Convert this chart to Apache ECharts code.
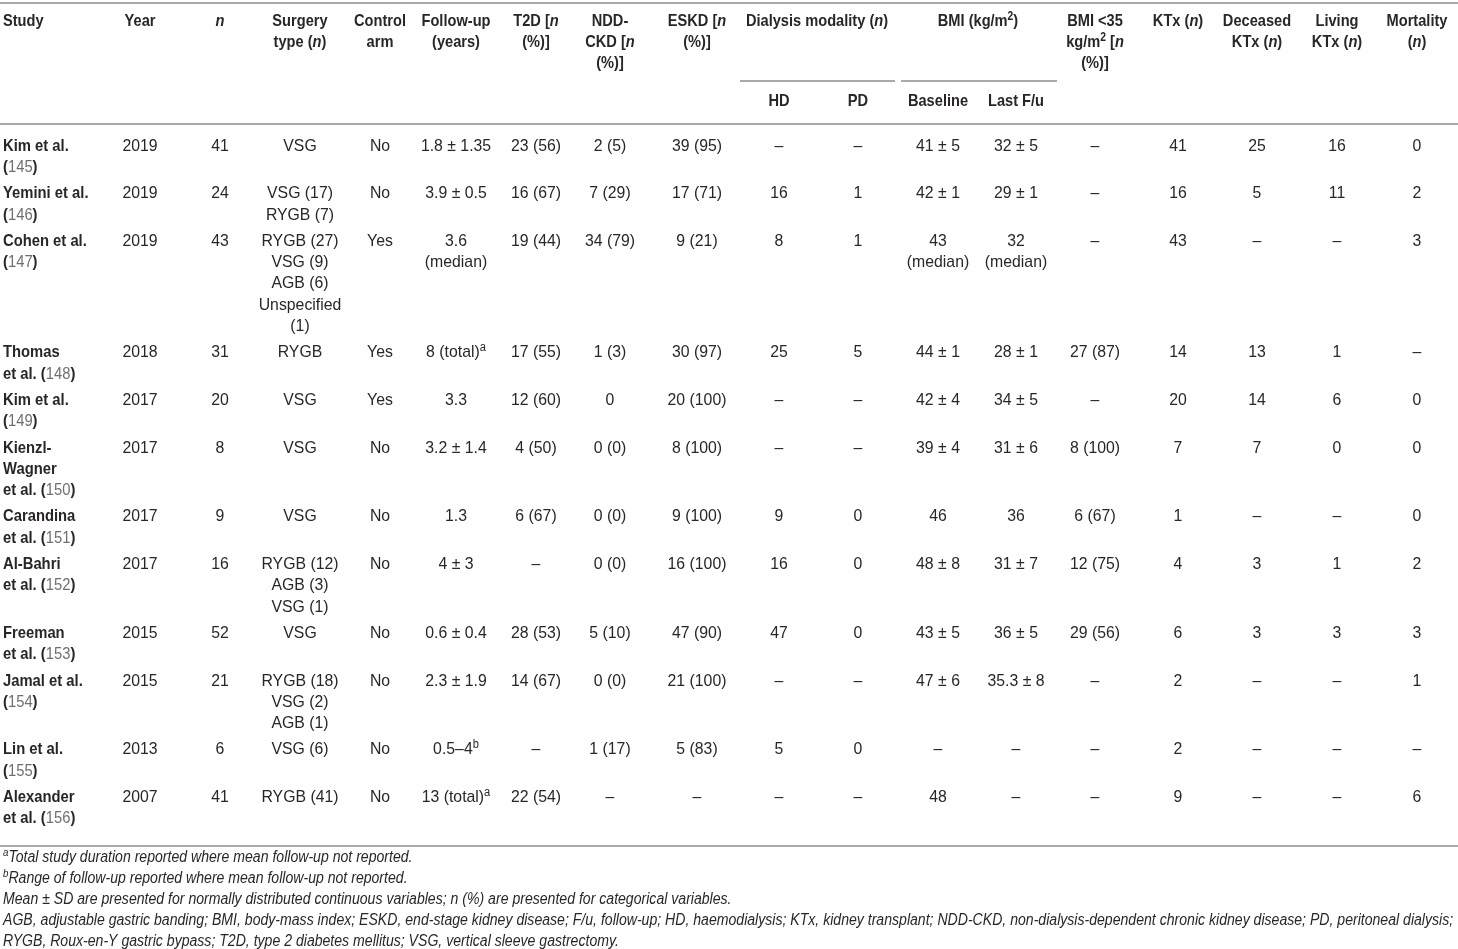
<!DOCTYPE html>
<html>
<head>
<meta charset="utf-8">
<title>Bariatric surgery in kidney disease - studies</title>
<script src="https://cdn.jsdelivr.net/npm/echarts@6/dist/echarts.min.js"></script>
<style>
  html, body { margin: 0; padding: 0; background: #fff; }
  #main { width: 1458px; height: 949px; }
</style>
</head>
<body>
<div id="main"></div>
<script type="text/javascript">
  // ---- table data ----
  var studies = ['Kim et al.\n', 'Yemini et al.\n', 'Cohen et al.\n', 'Thomas\net al. ', 'Kim et al.\n',
    'Kienzl-\nWagner\net al. ', 'Carandina\net al. ', 'Al-Bahri\net al. ', 'Freeman\net al. ',
    'Jamal et al.\n', 'Lin et al.\n', 'Alexander\net al. '];
  var refs = ['145', '146', '147', '148', '149', '150', '151', '152', '153', '154', '155', '156'];
  var years = ['2019', '2019', '2019', '2018', '2017', '2017', '2017', '2017', '2015', '2015', '2013', '2007'];
  var nPatients = ['41', '24', '43', '31', '20', '8', '9', '16', '52', '21', '6', '41'];
  var surgery = ['VSG', 'VSG (17)\nRYGB (7)', 'RYGB (27)\nVSG (9)\nAGB (6)\nUnspecified\n(1)', 'RYGB', 'VSG',
    'VSG', 'VSG', 'RYGB (12)\nAGB (3)\nVSG (1)', 'VSG', 'RYGB (18)\nVSG (2)\nAGB (1)', 'VSG (6)', 'RYGB (41)'];
  var controlArm = ['No', 'No', 'Yes', 'Yes', 'Yes', 'No', 'No', 'No', 'No', 'No', 'No', 'No'];
  var followUp = ['1.8 ± 1.35', '3.9 ± 0.5', '3.6\n(median)', '8 (total){sup|a}', '3.3', '3.2 ± 1.4', '1.3',
    '4 ± 3', '0.6 ± 0.4', '2.3 ± 1.9', '0.5–4{sup|b}', '13 (total){sup|a}'];
  var t2d = ['23 (56)', '16 (67)', '19 (44)', '17 (55)', '12 (60)', '4 (50)', '6 (67)', '–', '28 (53)', '14 (67)', '–', '22 (54)'];
  var nddCkd = ['2 (5)', '7 (29)', '34 (79)', '1 (3)', '0', '0 (0)', '0 (0)', '0 (0)', '5 (10)', '0 (0)', '1 (17)', '–'];
  var eskd = ['39 (95)', '17 (71)', '9 (21)', '30 (97)', '20 (100)', '8 (100)', '9 (100)', '16 (100)', '47 (90)', '21 (100)', '5 (83)', '–'];
  var hd = ['–', '16', '8', '25', '–', '–', '9', '16', '47', '–', '5', '–'];
  var pd = ['–', '1', '1', '5', '–', '–', '0', '0', '0', '–', '0', '–'];
  var bmiBaseline = ['41 ± 5', '42 ± 1', '43\n(median)', '44 ± 1', '42 ± 4', '39 ± 4', '46', '48 ± 8', '43 ± 5', '47 ± 6', '–', '48'];
  var bmiLast = ['32 ± 5', '29 ± 1', '32\n(median)', '28 ± 1', '34 ± 5', '31 ± 6', '36', '31 ± 7', '36 ± 5', '35.3 ± 8', '–', '–'];
  var bmiUnder35 = ['–', '–', '–', '27 (87)', '–', '8 (100)', '6 (67)', '12 (75)', '29 (56)', '–', '–', '–'];
  var ktx = ['41', '16', '43', '14', '20', '7', '1', '4', '6', '2', '2', '9'];
  var deceasedKtx = ['25', '5', '–', '13', '14', '7', '–', '3', '3', '–', '–', '–'];
  var livingKtx = ['16', '11', '–', '1', '6', '0', '–', '1', '3', '–', '–', '–'];
  var mortality = ['0', '2', '3', '–', '0', '0', '0', '2', '3', '1', '–', '6'];

  var headers = ['Study', 'Year', '{i|n}', 'Surgery\ntype ({i|n})', 'Control\narm', 'Follow-up\n(years)',
    'T2D [{i|n}\n(%)]', 'NDD-\nCKD [{i|n}\n(%)]', 'ESKD [{i|n}\n(%)]', 'HD', 'PD', 'Baseline', 'Last F/u',
    'BMI <35\nkg/m{sup|2} [{i|n}\n(%)]', 'KTx ({i|n})', 'Deceased\nKTx ({i|n})', 'Living\nKTx ({i|n})', 'Mortality\n({i|n})'];
  var groupHeaders = ['Dialysis modality ({i|n})', 'BMI (kg/m{sup|2})'];

  var footnotes = [
    '{sup|a}Total study duration reported where mean follow-up not reported.',
    '{sup|b}Range of follow-up reported where mean follow-up not reported.',
    'Mean ± SD are presented for normally distributed continuous variables; n (%) are presented for categorical variables.',
    'AGB, adjustable gastric banding; BMI, body-mass index; ESKD, end-stage kidney disease; F/u, follow-up; HD, haemodialysis; KTx, kidney transplant; NDD-CKD, non-dialysis-dependent chronic kidney disease; PD, peritoneal dialysis;',
    'RYGB, Roux-en-Y gastric bypass; T2D, type 2 diabetes mellitus; VSG, vertical sleeve gastrectomy.'
  ];

  // ---- layout ----
  var FONT = "'Liberation Sans', Arial, sans-serif";
  var TEXT = '#2a2627';
  var RULE = '#a9a9a9';
  var LINE_H = 21.3;
  var colX = [3, 140, 220, 300, 380, 456, 536, 610, 697, 779, 858, 938, 1016, 1095, 1178, 1257, 1337, 1417];
  var bodyCols = [null, years, nPatients, surgery, controlArm, followUp, t2d, nddCkd, eskd, hd, pd,
    bmiBaseline, bmiLast, bmiUnder35, ktx, deceasedKtx, livingKtx, mortality];
  var subCols = [9, 10, 11, 12];
  var groupX = [817, 978];

  // no condensed face is installed, so the text is squeezed horizontally
  var styles = {
    head: { size: 17, bold: true, italic: false, squeeze: 0.86 },
    study: { size: 17, bold: true, italic: false, squeeze: 0.87 },
    body: { size: 17, bold: false, italic: false, squeeze: 0.93 },
    foot: { size: 16, bold: false, italic: true, squeeze: 0.88 }
  };

  function richFor(size, bold, italic) {
    var w = bold ? 'bold' : 'normal';
    var s = italic ? 'italic' : 'normal';
    return {
      i: { fontFamily: FONT, fontSize: size, fontWeight: w, fontStyle: 'italic', fill: TEXT, lineHeight: LINE_H },
      sup: { fontFamily: FONT, fontSize: Math.round(size * 0.68), fontWeight: w, fontStyle: s, fill: TEXT,
        lineHeight: 12, verticalAlign: 'top' },
      ref: { fontFamily: FONT, fontSize: size, fontWeight: 'normal', fill: '#6f6f6f', lineHeight: LINE_H }
    };
  }

  // build the list of cells (text + anchor) from the arrays
  var cells = [];
  function addCell(text, x, yCenter, align, kind) {
    cells.push({ text: text, x: x, y: yCenter - LINE_H / 2, align: align, kind: kind });
  }

  headers.forEach(function (h, c) {
    var isSub = subCols.indexOf(c) >= 0;
    addCell(h, colX[c], isSub ? 101 : 21, c === 0 ? 'left' : 'center', 'head');
  });
  groupHeaders.forEach(function (h, g) {
    addCell(h, groupX[g], 21, 'center', 'head');
  });

  var y = 146;
  studies.forEach(function (s, r) {
    var lines = 1;
    addCell(s + '({ref|' + refs[r] + '})', colX[0], y, 'left', 'study');
    lines = Math.max(lines, s.split('\n').length);
    for (var c = 1; c < bodyCols.length; c++) {
      var v = bodyCols[c][r];
      addCell(v, colX[c], y, 'center', 'body');
      lines = Math.max(lines, v.split('\n').length);
    }
    y += lines * LINE_H + 5;
  });

  footnotes.forEach(function (f, k) {
    addCell(f, 3, 858 + k * 20.8, 'left', 'foot');
  });

  var rules = [
    [0, 1458, 3],
    [740, 895, 81],
    [901, 1057, 81],
    [0, 1458, 124],
    [0, 1458, 846]
  ];

  var myChart = echarts.init(document.getElementById('main'));

  var option = {
    animation: false,
    grid: { left: 0, right: 0, top: 0, bottom: 0 },
    xAxis: { type: 'value', min: 0, max: 1458, show: false },
    yAxis: { type: 'value', min: 0, max: 949, inverse: true, show: false },
    series: [
      {
        type: 'custom',
        name: 'rules',
        data: rules,
        renderItem: function (params, api) {
          var a = api.coord([api.value(0), api.value(2)]);
          var b = api.coord([api.value(1), api.value(2)]);
          return {
            type: 'line',
            shape: { x1: a[0], y1: a[1], x2: b[0], y2: b[1] },
            style: { stroke: RULE, lineWidth: 2 }
          };
        }
      },
      {
        type: 'custom',
        name: 'cells',
        data: cells.map(function (c) { return [c.x, c.y]; }),
        renderItem: function (params, api) {
          var cell = cells[params.dataIndex];
          var st = styles[cell.kind];
          var p = api.coord([api.value(0), api.value(1)]);
          return {
            type: 'text',
            x: p[0],
            y: p[1],
            scaleX: st.squeeze,
            style: {
              text: cell.text,
              fontFamily: FONT,
              fontSize: st.size,
              fontWeight: st.bold ? 'bold' : 'normal',
              fontStyle: st.italic ? 'italic' : 'normal',
              fill: TEXT,
              align: cell.align,
              verticalAlign: 'top',
              lineHeight: LINE_H,
              rich: richFor(st.size, st.bold, st.italic)
            }
          };
        }
      }
    ]
  };

  myChart.setOption(option);
</script>
</body>
</html>
